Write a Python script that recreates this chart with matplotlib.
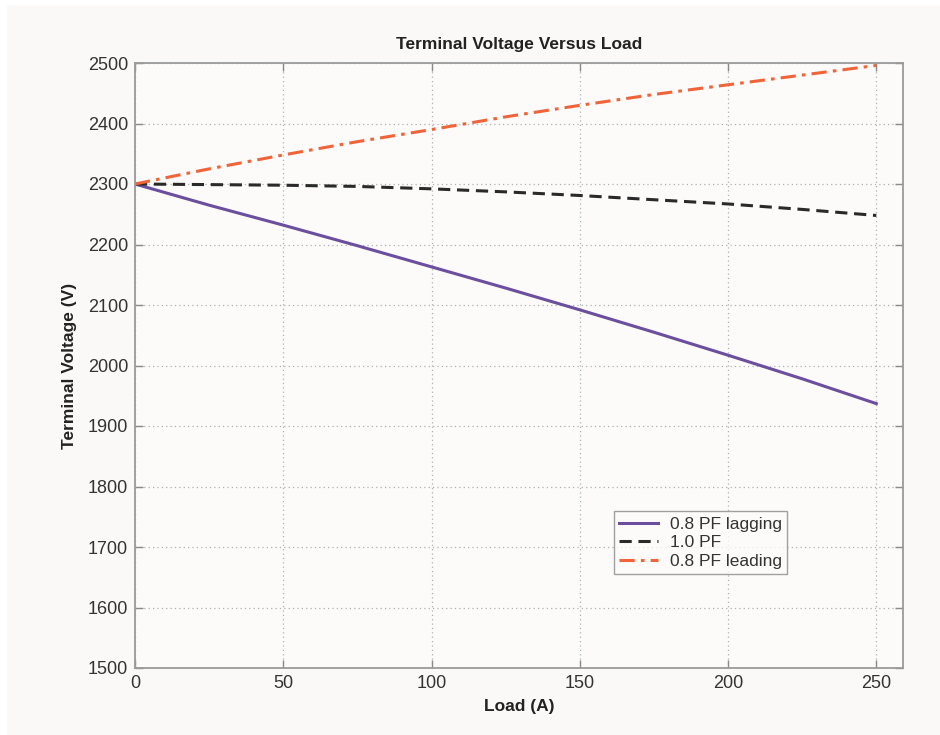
# Terminal voltage vs load for a synchronous generator
import matplotlib.pyplot as plt
from matplotlib.patches import Rectangle

plt.rcParams['font.family'] = ['Liberation Sans', 'DejaVu Sans']

# Load current (A)
load = [0, 25, 50, 75, 100, 125, 150, 175, 200, 225, 250]
# Terminal voltage (V) for each power factor
v_lagging = [2300, 2265, 2232, 2198, 2163, 2128, 2092, 2055, 2017, 1978, 1937]
v_unity = [2300, 2299, 2298, 2296, 2292, 2287, 2281, 2274, 2267, 2258, 2248]
v_leading = [2300, 2325, 2348, 2370, 2390, 2411, 2430, 2448, 2464, 2480, 2496]

labels = ['0.8 PF lagging', '1.0 PF', '0.8 PF leading']
yticks = [1500, 1600, 1700, 1800, 1900, 2000, 2100, 2200, 2300, 2400, 2500]
xticks = [0, 50, 100, 150, 200, 250]

fig = plt.figure(figsize=(9.4, 7.35), dpi=100, facecolor='white')
# off-white panel like the original screenshot
fig.patches.append(Rectangle((7/940, 0), 1, 1 - 5/735, transform=fig.transFigure,
                             facecolor='#faf9f7', edgecolor='none', zorder=-1))

ax = fig.add_axes([135/940, 1 - 668/735, 768/940, 605/735])
ax.set_facecolor('#fcfbfa')

ax.plot(load, v_lagging, '-', color='#6b4f9e', lw=2.2, label=labels[0])
ax.plot(load, v_unity, '--', color='#2a2a2a', lw=2.2, dashes=(4, 2.2), label=labels[1])
ax.plot(load, v_leading, '-.', color='#f0643a', lw=2.2, dashes=(5, 2, 1.2, 2), label=labels[2])

ax.set_xlim(0, 259)
ax.set_ylim(1500, 2500)
ax.set_xticks(xticks)
ax.set_yticks(yticks)
ax.grid(True, linestyle=(0, (1, 2.5)), color='#b0b0b0', lw=0.9)
ax.tick_params(direction='in', top=True, right=True, length=6, width=1,
               color='#8a8a8a', labelsize=13, labelcolor='#333333', pad=5)
for s in ax.spines.values():
    s.set_color('#9a9a9a')
    s.set_linewidth(1.3)

ax.set_title('Terminal Voltage Versus Load', fontsize=12.5, fontweight='bold',
             color='#222222', pad=10)
ax.set_xlabel('Load (A)', fontsize=12.5, fontweight='bold', color='#222222', labelpad=5)
ax.set_ylabel('Terminal Voltage (V)', fontsize=12.5, fontweight='bold', color='#222222', labelpad=8)

leg = ax.legend(loc='lower left', bbox_to_anchor=(0.624, 0.155), borderaxespad=0,
                fontsize=12.5, frameon=True, fancybox=False, edgecolor='#8a8a8a',
                facecolor='#fcfbfa', handlelength=2.2, borderpad=0.3,
                labelspacing=0.2, handletextpad=0.7)
leg.get_frame().set_linewidth(1.0)
for t in leg.get_texts():
    t.set_color('#333333')

fig.savefig('out.png', dpi=100, facecolor=fig.get_facecolor())
